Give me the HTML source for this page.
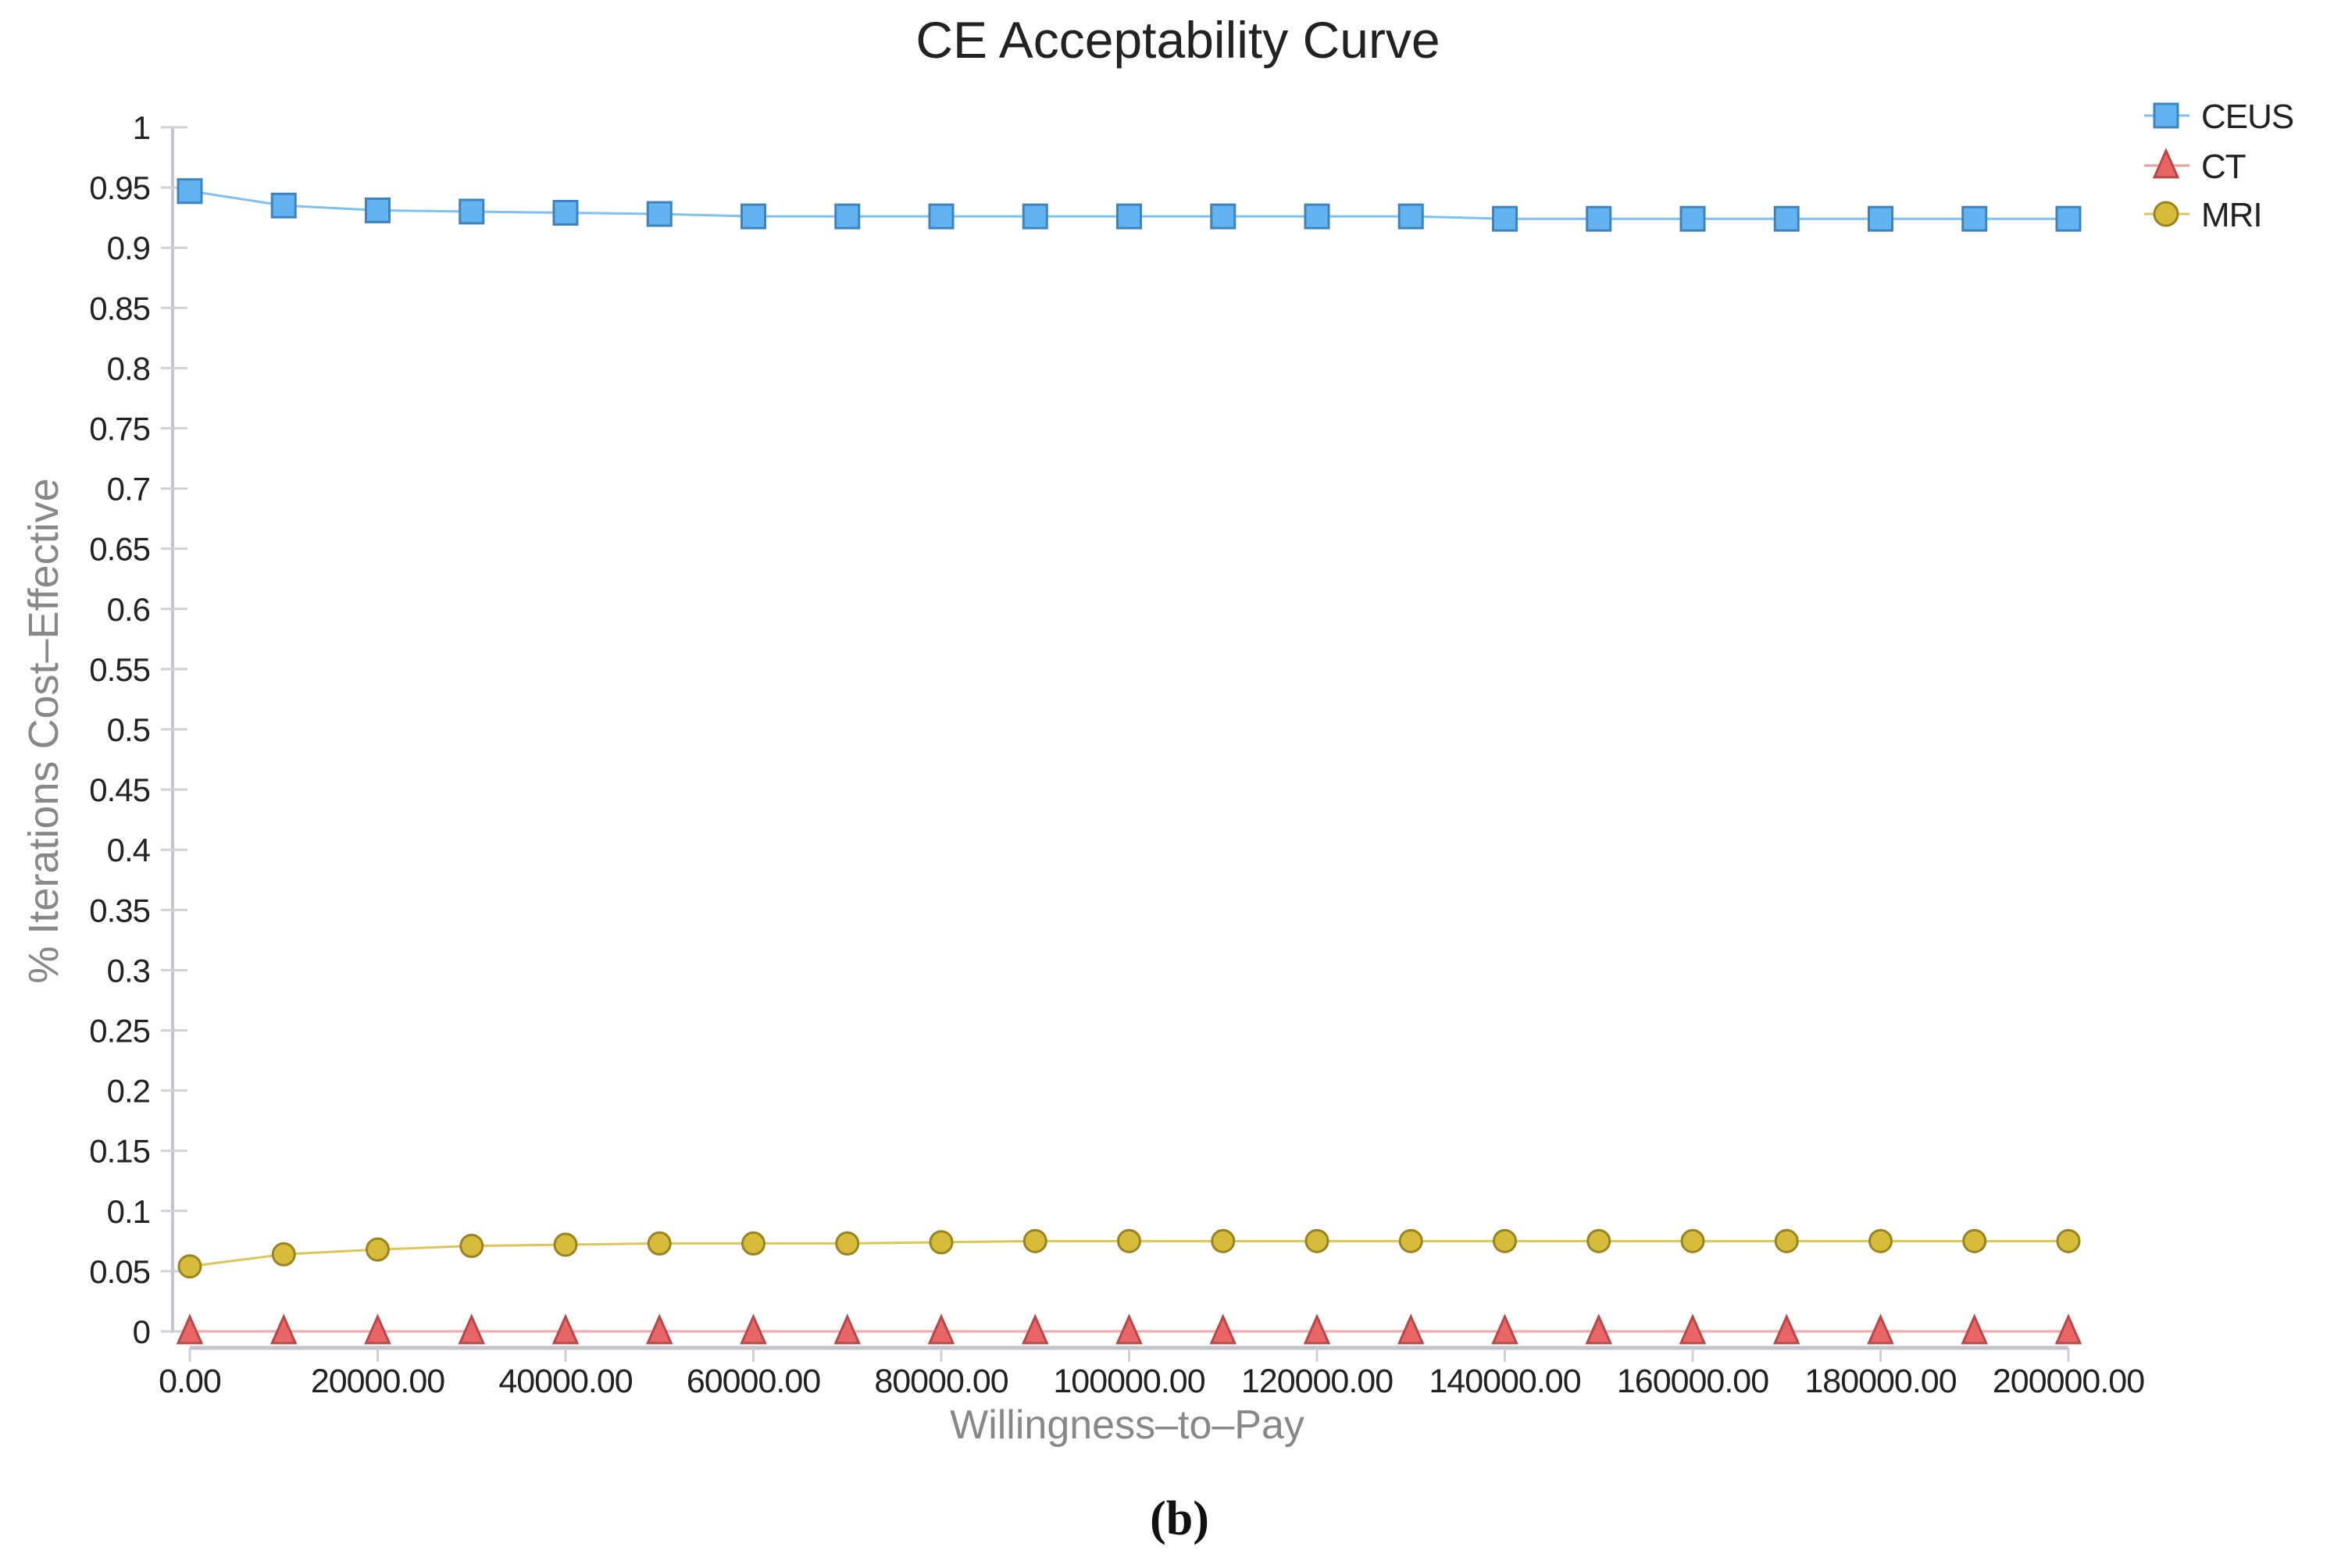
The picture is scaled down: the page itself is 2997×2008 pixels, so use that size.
<!DOCTYPE html>
<html><head><meta charset="utf-8"><style>
html,body{margin:0;padding:0;background:#fff;}
svg{display:block;font-family:"Liberation Sans","DejaVu Sans",sans-serif;}
</style></head><body>
<svg id="chart" width="2997" height="2008" viewBox="0 0 2997 2008" xmlns="http://www.w3.org/2000/svg">
<text x="1508" y="74" font-size="66" text-anchor="middle" fill="#222">CE Acceptability Curve</text>
<g id="axes"></g>
<g id="series"></g>
<text transform="translate(74,936) rotate(-90)" font-size="54" text-anchor="middle" fill="#888">% Iterations Cost–Effective</text>
<text x="1443" y="1842" font-size="52" text-anchor="middle" fill="#888">Willingness–to–Pay</text>
<text x="1510" y="1965" font-size="62" font-weight="bold" text-anchor="middle" fill="#111" font-family="Liberation Serif, serif">(b)</text>
<g>
  <g>
    <line x1="2745" y1="148" x2="2803" y2="148" stroke="#7cc1f5" stroke-width="3"/>
    <rect x="2758" y="133" width="30" height="30" fill="#63b3f2" stroke="#3d83bd" stroke-width="3"/>
    <text x="2818" y="164" font-size="44" fill="#222" letter-spacing="-1">CEUS</text>
  </g>
  <g>
    <line x1="2745" y1="212" x2="2803" y2="212" stroke="#f19a9a" stroke-width="3"/>
    <polygon points="2773,193 2788,227 2758,227" fill="#ea6565" stroke="#b84848" stroke-width="3"/>
    <text x="2818" y="228" font-size="44" fill="#222" letter-spacing="-1">CT</text>
  </g>
  <g>
    <line x1="2745" y1="274" x2="2803" y2="274" stroke="#dcc657" stroke-width="3"/>
    <circle cx="2773" cy="274" r="15" fill="#d7bb3a" stroke="#9a8420" stroke-width="3"/>
    <text x="2818" y="290" font-size="44" fill="#222" letter-spacing="-1">MRI</text>
  </g>
</g>
</svg>
<script>
const wtp = [0,10000,20000,30000,40000,50000,60000,70000,80000,90000,100000,110000,120000,130000,140000,150000,160000,170000,180000,190000,200000];
const ceus = [0.947,0.935,0.931,0.930,0.929,0.928,0.926,0.926,0.926,0.926,0.926,0.926,0.926,0.926,0.924,0.924,0.924,0.924,0.924,0.924,0.924];
const ct = [0,0,0,0,0,0,0,0,0,0,0,0,0,0,0,0,0,0,0,0,0];
const mri = [0.054,0.064,0.068,0.071,0.072,0.073,0.073,0.073,0.074,0.075,0.075,0.075,0.075,0.075,0.075,0.075,0.075,0.075,0.075,0.075,0.075];
const yTicks = ["0","0.05","0.1","0.15","0.2","0.25","0.3","0.35","0.4","0.45","0.5","0.55","0.6","0.65","0.7","0.75","0.8","0.85","0.9","0.95","1"];
const xTickLabels = ["0.00","20000.00","40000.00","60000.00","80000.00","100000.00","120000.00","140000.00","160000.00","180000.00","200000.00"];

const NS="http://www.w3.org/2000/svg";
const X0=243, X1=2648, XMAX=200000, Y0=1705, Y1=163;
function xs(v){return X0+(X1-X0)*v/XMAX;}
function ys(v){return Y0-(Y0-Y1)*v;}
function mk(tag,attrs,parent){const e=document.createElementNS(NS,tag);for(const k in attrs)e.setAttribute(k,attrs[k]);parent.appendChild(e);return e;}
const axes=document.getElementById('axes');
const ser=document.getElementById('series');
let yl=mk('line',{x1:221,y1:Y1,x2:221,y2:Y0+2,stroke:'#c4c4cc','stroke-width':4},axes);


yTicks.forEach(t=>{
  const y=ys(parseFloat(t));
  const tk=mk('line',{x1:206,y1:y,x2:240,y2:y,stroke:'#d0d0d6','stroke-width':3},axes);
  
  
  const tx=mk('text',{x:192,y:y+15,'font-size':42,'text-anchor':'end',fill:'#222','letter-spacing':'-1'},axes);
  tx.textContent=t;
  
  
});
let xl=mk('line',{x1:X0,y1:1726,x2:X1,y2:1726,stroke:'#c4c4cc','stroke-width':5},axes);


xTickLabels.forEach(t=>{
  const x=xs(parseFloat(t));
  const tk=mk('line',{x1:x,y1:1726,x2:x,y2:1744,stroke:'#d0d0d6','stroke-width':3},axes);
  
  
  const tx=mk('text',{x:x,y:1783,'font-size':43,'text-anchor':'middle',fill:'#222','letter-spacing':'-1'},axes);
  tx.textContent=t;
  
  
});
function drawSeries(vals,name,lineColor,fill,stroke,shape){
  const g=mk('g',{},ser);
  
  
  const pts=vals.map((v,i)=>xs(wtp[i])+','+ys(v)).join(' ');
  const pl=mk('polyline',{points:pts,fill:'none',stroke:lineColor,'stroke-width':3},g);
  
  
  vals.forEach((v,i)=>{
    const x=xs(wtp[i]),y=ys(v);let m;
    if(shape==='square')m=mk('rect',{x:x-15,y:y-15,width:30,height:30,fill:fill,stroke:stroke,'stroke-width':3},g);
    else if(shape==='tri')m=mk('polygon',{points:`${x},${y-19} ${x+15},${y+15} ${x-15},${y+15}`,fill:fill,stroke:stroke,'stroke-width':3},g);
    else m=mk('circle',{cx:x,cy:y,r:14,fill:fill,stroke:stroke,'stroke-width':3},g);
    
    
  });
}
drawSeries(ct,'ct','#f4a6a6','#ea6565','#b84848','tri');
drawSeries(mri,'mri','#dcc657','#d7bb3a','#9a8420','circle');
drawSeries(ceus,'ceus','#7cc1f5','#63b3f2','#3d83bd','square');
</script>
</body></html>
